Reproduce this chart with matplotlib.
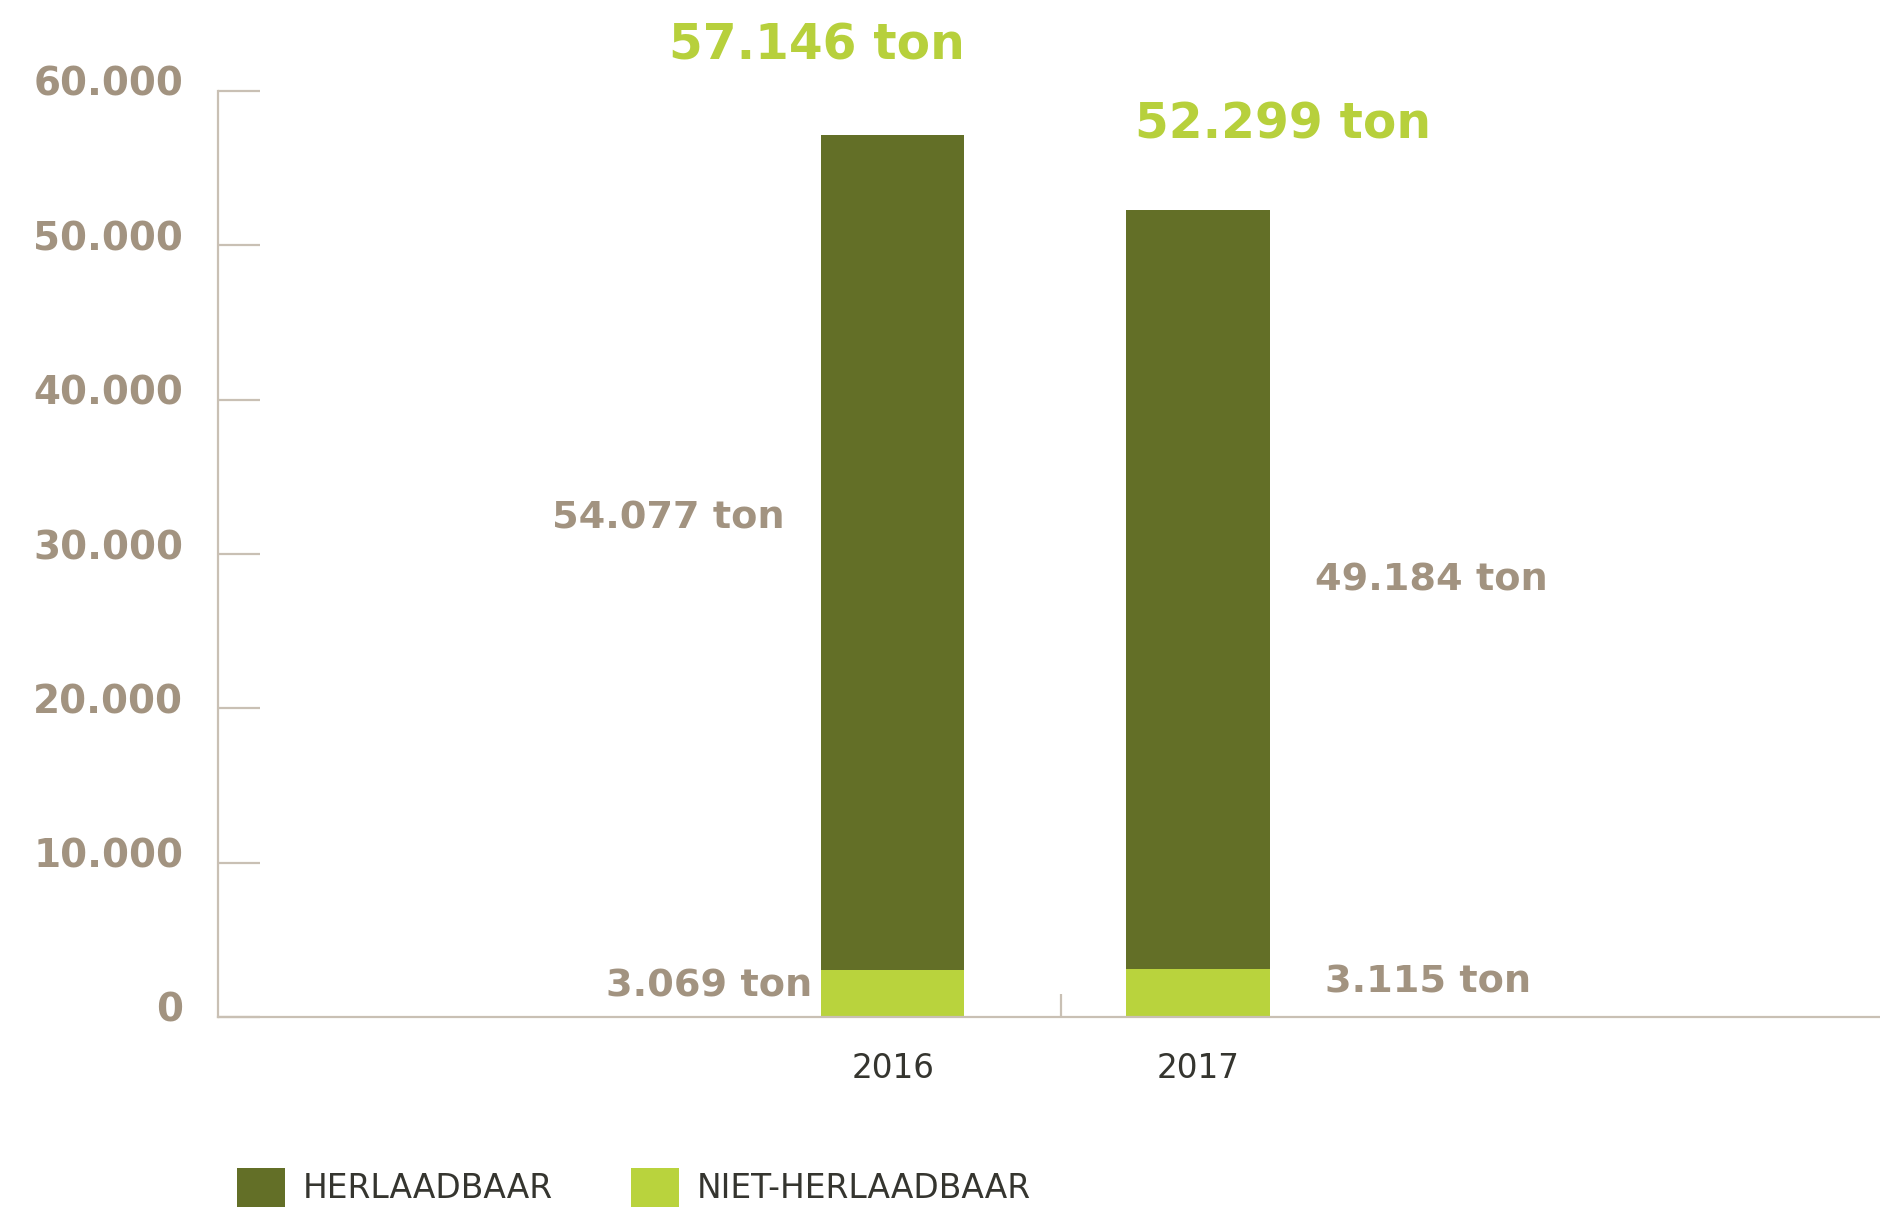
import matplotlib
matplotlib.use("Agg")
import matplotlib.pyplot as plt
from matplotlib.transforms import ScaledTranslation

# ---- data ----
years = ["2016", "2017"]
niet_herlaadbaar = [3069, 3115]
herlaadbaar = [54077, 49184]
totals = [57146, 52299]
total_labels = ["57.146 ton", "52.299 ton"]
herl_labels = ["54.077 ton", "49.184 ton"]
niet_labels = ["3.069 ton", "3.115 ton"]
yticks = [0, 10000, 20000, 30000, 40000, 50000, 60000]
ytick_labels = ["0", "10.000", "20.000", "30.000", "40.000", "50.000", "60.000"]
legend_labels = ["HERLAADBAAR", "NIET-HERLAADBAAR"]

# ---- style ----
DARK = "#636f27"
LIGHT = "#b9d33d"
GREEN_TXT = "#b7d03c"
GREY_TXT = "#a29380"
AXIS = "#c9c0b4"
DARK_TXT = "#35352f"
PX = 0.72  # points per pixel at dpi 100

plt.rcParams["font.family"] = ["DejaVu Sans"]

fig = plt.figure(figsize=(18.8, 12.09), dpi=100)
W, H = 1880, 1209
ax = fig.add_axes([218 / W, (H - 1017) / H, (W - 218) / W, (1017 - 91) / H])

x = list(range(len(years)))
bw = 0.47
b1 = ax.bar(x, niet_herlaadbaar, width=bw, color=LIGHT, label=legend_labels[1], zorder=3)
b2 = ax.bar(x, herlaadbaar, width=bw, bottom=niet_herlaadbaar, color=DARK,
            label=legend_labels[0], zorder=3)

ax.set_ylim(0, 60000)
ax.set_xlim(-2.208, 3.232)

for s in ["top", "right"]:
    ax.spines[s].set_visible(False)
for s in ["left", "bottom"]:
    ax.spines[s].set_color(AXIS)
    ax.spines[s].set_linewidth(1.6)
    ax.spines[s].set_zorder(4)

ax.set_yticks(yticks)
ax.set_yticklabels(ytick_labels)
ax.tick_params(axis="y", direction="in", length=42 * PX, width=1.6, color=AXIS,
               pad=25, labelsize=28, labelcolor=GREY_TXT)
for lab in ax.get_yticklabels():
    lab.set_fontweight("bold")
    lab.set_transform(lab.get_transform() + ScaledTranslation(0, 10 / 100, fig.dpi_scale_trans))

ax.set_xticks(x)
ax.set_xticklabels(years)
ax.tick_params(axis="x", which="major", length=0, pad=25, labelsize=23.5, labelcolor=DARK_TXT)
ax.set_xticks([0.5516], minor=True)
ax.tick_params(axis="x", which="minor", direction="in", length=23 * PX, width=1.6, color=AXIS)

# total labels (above bars)
tot_off = [(-76, 95), (85, 90)]
for i in x:
    ax.annotate(total_labels[i], xy=(i, totals[i]),
                xytext=(tot_off[i][0] * PX, tot_off[i][1] * PX), textcoords="offset points",
                ha="center", va="center_baseline", fontsize=35, fontweight="bold",
                color=GREEN_TXT, annotation_clip=False)

# segment labels
herl_off = [(-36, 38, "right"), (45, 13, "left")]
niet_off = [(-9, 11, "right"), (55, 14, "left")]
for i in x:
    mid = niet_herlaadbaar[i] + herlaadbaar[i] / 2
    dx, dy, ha = herl_off[i]
    xe = i - bw / 2 if ha == "right" else i + bw / 2
    ax.annotate(herl_labels[i], xy=(xe, mid), xytext=(dx * PX, dy * PX),
                textcoords="offset points", ha=ha, va="center_baseline",
                fontsize=27.5, fontweight="bold", color=GREY_TXT)
    mid2 = niet_herlaadbaar[i] / 2
    dx, dy, ha = niet_off[i]
    xe = i - bw / 2 if ha == "right" else i + bw / 2
    ax.annotate(niet_labels[i], xy=(xe, mid2), xytext=(dx * PX, dy * PX),
                textcoords="offset points", ha=ha, va="center_baseline",
                fontsize=27.5, fontweight="bold", color=GREY_TXT)

leg = fig.legend(handles=[b2, b1], labels=legend_labels, ncol=2, frameon=False,
                 loc="lower left", bbox_to_anchor=(237 / W, 2 / H),
                 fontsize=23.7, handlelength=1.45, handleheight=1.45,
                 handletextpad=0.55, columnspacing=2.38, borderpad=0, borderaxespad=0)
for t in leg.get_texts():
    t.set_color(DARK_TXT)

fig.savefig("out.png", dpi=100)
